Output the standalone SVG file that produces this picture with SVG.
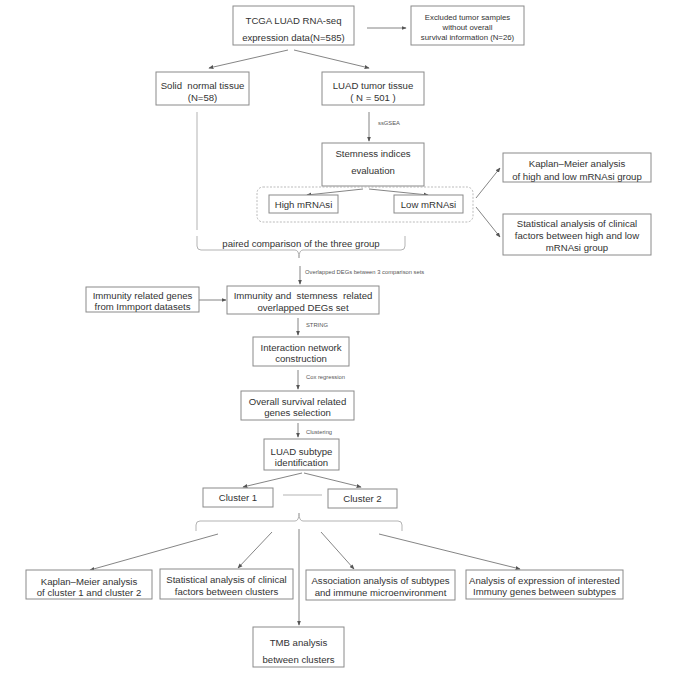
<svg xmlns="http://www.w3.org/2000/svg" width="685" height="685" viewBox="0 0 685 685">
<style>
.box{fill:#fff;stroke:#8a8a8a;stroke-width:1}
.t{font-family:"Liberation Sans",Arial,sans-serif;font-size:9.6px;fill:#333;text-anchor:middle}
.ts{font-family:"Liberation Sans",Arial,sans-serif;font-size:7.8px;fill:#333;text-anchor:middle}
.lab{font-family:"Liberation Sans",Arial,sans-serif;font-size:5.8px;fill:#555}
.ln{fill:none;stroke:#666;stroke-width:0.8}
.lt{fill:none;stroke:#aaa;stroke-width:0.9}
.ar{fill:none;stroke:#666;stroke-width:0.8;marker-end:url(#ah)}
</style>
<defs>
<marker id="ah" viewBox="0 0 8 8" refX="7" refY="4" markerWidth="5" markerHeight="5" markerUnits="userSpaceOnUse" orient="auto">
<path d="M0,0.8 L8,4 L0,7.2 z" fill="#555"/>
</marker>
</defs>
<rect width="685" height="685" fill="#fff"/>

<g id="connectors">
<path class="ar" d="M367,28 L406,28"/>
<path class="ar" d="M288,50 L209,68"/>
<path class="ar" d="M294,50 L369,68"/>
<path class="lt" d="M197,112 L197,230"/>
<path class="ar" d="M369,112 L369,141"/>
<text class="lab" x="378" y="125">ssGSEA</text>
<path class="ar" d="M363,189 L307,195"/>
<path class="ar" d="M369,189 L428,195"/>
<path class="ar" d="M476,198 L500,168"/>
<path class="ar" d="M476,207 L500,237"/>
<path class="lt" d="M197,236 L197,246 Q197,250 201,250 L295,250 Q299,250 299,258 Q299,250 303,250 L401,250 Q405,250 405,246 L405,236"/>
<path class="ar" d="M300,266 L300,284"/>
<text class="lab" x="305" y="274">Overlapped DEGs between 3 comparison sets</text>
<path class="ar" d="M199,300 L226,300"/>
<path class="ar" d="M298,318 L298,335"/>
<text class="lab" x="306" y="327">STRING</text>
<path class="ar" d="M298,370 L298,389"/>
<text class="lab" x="306" y="379">Cox regression</text>
<path class="ar" d="M298,423 L298,437"/>
<text class="lab" x="306" y="434">Clustering</text>
<path class="ar" d="M302,473 L243,487"/>
<path class="ar" d="M304,473 L361,487"/>
<path class="lt" d="M283,495 L322,495"/>
<path class="lt" d="M196,531 L196,525 Q196,521 200,521 L295,521 Q299,521 299,513 Q299,521 303,521 L398,521 Q402,521 402,525 L402,531"/>
<path class="ar" d="M218,534 L90,570"/>
<path class="ar" d="M272,532 L238,568"/>
<path class="ar" d="M299,529 L299,625"/>
<path class="ar" d="M321,532 L354,569"/>
<path class="ar" d="M379,534 L520,569"/>
</g>

<g id="tcga"><rect class="box" x="233" y="6" width="121" height="39"/>
<text class="t" x="293.5" y="23.5">TCGA LUAD RNA-seq</text>
<text class="t" x="293.5" y="40.5">expression data(N=585)</text></g>

<g id="excluded"><rect class="box" x="411" y="6" width="113" height="39"/>
<text class="ts" x="467.5" y="19.8">Excluded tumor samples</text>
<text class="ts" x="467.5" y="29.8">without overall</text>
<text class="ts" x="467.5" y="39.8">survival information (N=26)</text></g>

<g id="solid"><rect class="box" x="156" y="72" width="93" height="33"/>
<text class="t" x="202.5" y="88.5" xml:space="preserve">Solid  normal tissue</text>
<text class="t" x="202.5" y="100.5">(N=58)</text></g>

<g id="luad"><rect class="box" x="322" y="72" width="102" height="33"/>
<text class="t" x="373" y="88.5">LUAD tumor tissue</text>
<text class="t" x="373" y="100.5" xml:space="preserve">( N = 501 )</text></g>

<g id="stemness"><rect class="box" x="322" y="143" width="102" height="43"/>
<text class="t" x="373" y="156.5">Stemness indices</text>
<text class="t" x="373" y="173.5">evaluation</text></g>

<g id="mrnasi-group"><rect x="257" y="187" width="216" height="35" rx="6" fill="none" stroke="#aaa" stroke-width="0.8" stroke-dasharray="2,1.5"/></g>

<g id="high"><rect class="box" x="269" y="195" width="69" height="18"/>
<text class="t" x="303.5" y="207.5">High mRNAsi</text></g>

<g id="low"><rect class="box" x="394" y="195" width="69" height="18"/>
<text class="t" x="428.5" y="207.5">Low mRNAsi</text></g>

<g id="kaplan1"><rect class="box" x="503" y="153" width="148" height="29"/>
<text class="t" x="577" y="166.5">Kaplan–Meier analysis</text>
<text class="t" x="577" y="179.5">of high and low mRNAsi group</text></g>

<g id="stat1"><rect class="box" x="503" y="214" width="148" height="41"/>
<text class="t" x="577" y="226.5">Statistical analysis of clinical</text>
<text class="t" x="577" y="238.5">factors between high and low</text>
<text class="t" x="577" y="250.5">mRNAsi group</text></g>

<g id="paired"><text class="t" x="301" y="246.5">paired comparison of the three group</text></g>

<g id="immport"><rect class="box" x="86" y="287" width="113" height="25"/>
<text class="t" x="142.5" y="299.2">Immunity related genes</text>
<text class="t" x="142.5" y="310.2">from Immport datasets</text></g>

<g id="immunity"><rect class="box" x="227" y="286" width="152" height="28"/>
<text class="t" x="303" y="299" xml:space="preserve">Immunity and  stemness  related</text>
<text class="t" x="303" y="310.5">overlapped DEGs set</text></g>

<g id="interaction"><rect class="box" x="253" y="337" width="96" height="29"/>
<text class="t" x="301" y="350.5">Interaction network</text>
<text class="t" x="301" y="361.5">construction</text></g>

<g id="overall"><rect class="box" x="241" y="391" width="113" height="29"/>
<text class="t" x="297.5" y="404.5">Overall survival related</text>
<text class="t" x="297.5" y="415.5">genes selection</text></g>

<g id="subtype"><rect class="box" x="264" y="439" width="75" height="31"/>
<text class="t" x="301.5" y="454.5">LUAD subtype</text>
<text class="t" x="301.5" y="465.5">identification</text></g>

<g id="cluster1"><rect class="box" x="203" y="488" width="70" height="19"/>
<text class="t" x="238" y="501">Cluster 1</text></g>

<g id="cluster2"><rect class="box" x="328" y="489" width="69" height="19"/>
<text class="t" x="362.5" y="502">Cluster 2</text></g>

<g id="kaplan2"><rect class="box" x="26" y="570" width="126" height="29"/>
<text class="t" x="89" y="584.5">Kaplan–Meier analysis</text>
<text class="t" x="89" y="595.5">of cluster 1 and cluster 2</text></g>

<g id="stat2"><rect class="box" x="160" y="569" width="133" height="30"/>
<text class="t" x="226.5" y="582.5">Statistical analysis of clinical</text>
<text class="t" x="226.5" y="594.5">factors between clusters</text></g>

<g id="assoc"><rect class="box" x="306" y="570" width="149" height="30"/>
<text class="t" x="380.5" y="583.5">Association analysis of subtypes</text>
<text class="t" x="380.5" y="595.5">and immune microenvironment</text></g>

<g id="expr"><rect class="box" x="466" y="570" width="157" height="29"/>
<text class="t" x="544.5" y="583.5">Analysis of expression of interested</text>
<text class="t" x="544.5" y="594.5">Immuny genes between subtypes</text></g>

<g id="tmb"><rect class="box" x="253" y="627" width="91" height="40"/>
<text class="t" x="298.5" y="645.5">TMB analysis</text>
<text class="t" x="298.5" y="662.5">between clusters</text></g>
</svg>
